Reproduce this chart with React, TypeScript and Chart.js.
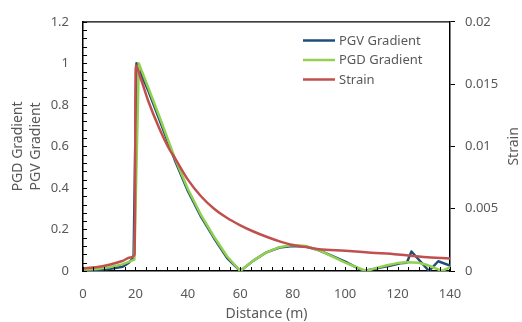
import React, { useEffect, useRef } from "react";
import { Chart, registerables } from "chart.js";

Chart.register(...registerables);

// ---- data ----
const pgvDistance = [0, 5, 10, 15, 17.5, 19.3, 20.4, 25, 30, 35, 40, 45, 50, 55, 60, 65, 70, 75, 80, 85, 90, 95, 100, 107, 113, 117, 121, 123.5, 125.3, 132, 135.5, 140];
const pgvGradient = [0.003, 0.005, 0.01, 0.02, 0.04, 0.065, 1.0, 0.865, 0.7, 0.535, 0.385, 0.262, 0.158, 0.062, 0, 0.05, 0.09, 0.113, 0.12, 0.118, 0.1, 0.073, 0.045, 0, 0.015, 0.025, 0.037, 0.04, 0.094, 0, 0.047, 0.026];

const pgdDistance = [0, 5, 10, 15, 19.6, 21.3, 25, 30, 35, 40, 45, 50, 55, 60, 62, 65, 70, 75, 80, 85, 90, 95, 100, 108, 112, 116, 120, 124, 128, 131, 137, 140];
const pgdGradient = [0.006, 0.01, 0.018, 0.032, 0.055, 1.0, 0.88, 0.715, 0.545, 0.395, 0.27, 0.165, 0.07, 0, 0.02, 0.05, 0.09, 0.115, 0.125, 0.12, 0.1, 0.07, 0.04, 0, 0.015, 0.028, 0.038, 0.042, 0.04, 0.03, 0, 0.018];

const strainDistance = [0, 5, 10, 15, 18, 19.7, 20.1, 22, 25, 29, 33, 35, 40, 45, 50, 55, 60, 65, 70, 75, 80, 85, 90, 100, 110, 120, 126, 130, 140];
const strainValue = [0.00022, 0.0003, 0.0005, 0.0008, 0.00108, 0.00133, 0.0165, 0.01547, 0.01358, 0.0115, 0.00975, 0.00908, 0.00733, 0.006, 0.005, 0.00425, 0.00367, 0.00317, 0.00275, 0.00238, 0.00208, 0.00192, 0.00175, 0.00162, 0.00147, 0.00133, 0.0012, 0.00113, 0.001];

const xTicks = [0, 20, 40, 60, 80, 100, 120, 140];
const leftTicks = [0, 0.2, 0.4, 0.6, 0.8, 1, 1.2];
const rightTicks = [0, 0.005, 0.01, 0.015, 0.02];
const xMinorStep = 4;
const leftMinorStep = 0.04;

const FONT = "'Noto Sans', sans-serif";
const TEXT = "#595959";
const BLUE = "#1F4E79";
const GREEN = "#92D050";
const RED = "#C0504D";

const fmt = (v: number) => String(parseFloat(Number(v).toFixed(6)));
const pairs = (xs: number[], ys: number[]) => xs.map((x, i) => ({ x, y: ys[i] }));

export default function App() {
  const ref = useRef<HTMLCanvasElement>(null);

  useEffect(() => {
    document.body.style.margin = "0";
    const canvas = ref.current;
    if (!canvas) return;

    const decor = {
      id: "decor",
      afterDraw(chart: any) {
        const ctx = chart.ctx;
        const { left, right, top, bottom } = chart.chartArea;
        const xs = chart.scales.x;
        const ys = chart.scales.y;
        ctx.save();
        // top border
        ctx.strokeStyle = "#000";
        ctx.lineWidth = 1.25;
        ctx.beginPath();
        ctx.moveTo(left, top);
        ctx.lineTo(right, top);
        ctx.stroke();
        // inner ticks
        ctx.lineWidth = 1;
        ctx.beginPath();
        for (let v = 0; v <= 140 + 1e-9; v += xMinorStep) {
          const px = Math.round(xs.getPixelForValue(v)) + 0.5;
          ctx.moveTo(px, bottom);
          ctx.lineTo(px, bottom - 4);
        }
        for (let k = 0; k <= 30; k++) {
          const py = Math.round(ys.getPixelForValue(k * leftMinorStep)) + 0.5;
          ctx.moveTo(left, py);
          ctx.lineTo(left + 4, py);
        }
        ctx.stroke();
        // right title
        ctx.fillStyle = TEXT;
        ctx.font = `14px ${FONT}`;
        ctx.textAlign = "center";
        ctx.textBaseline = "middle";
        ctx.translate(514, (top + bottom) / 2);
        ctx.rotate(-Math.PI / 2);
        ctx.fillText("Strain", 0, 0);
        ctx.restore();
        // legend
        ctx.save();
        const rows = [40.5, 60, 79.5];
        ctx.font = `13px ${FONT}`;
        ctx.textAlign = "left";
        ctx.textBaseline = "middle";
        chart.data.datasets.forEach((ds: any, i: number) => {
          const y = rows[i];
          ctx.strokeStyle = ds.borderColor;
          ctx.lineWidth = 2.5;
          ctx.beginPath();
          ctx.moveTo(303, y);
          ctx.lineTo(335, y);
          ctx.stroke();
          ctx.fillStyle = TEXT;
          ctx.fillText(ds.label, 339, y + 0.5);
        });
        ctx.restore();
      },
    };

    const tickFont = { family: FONT, size: 13 };

    const chart = new Chart(canvas, {
      type: "line",
      data: {
        datasets: [
          { label: "PGV Gradient", data: pairs(pgvDistance, pgvGradient), borderColor: BLUE, borderWidth: 2.5, yAxisID: "y", order: 3, tension: 0 },
          { label: "PGD Gradient", data: pairs(pgdDistance, pgdGradient), borderColor: GREEN, borderWidth: 2.5, yAxisID: "y", order: 2, tension: 0 },
          { label: "Strain", data: pairs(strainDistance, strainValue), borderColor: RED, borderWidth: 2.5, yAxisID: "y2", order: 1, cubicInterpolationMode: "monotone" },
        ],
      } as any,
      options: {
        responsive: false,
        animation: false,
        layout: { padding: { top: 20, left: 0, right: 0, bottom: 0 } },
        plugins: { legend: { display: false }, tooltip: { enabled: false } },
        elements: { point: { radius: 0 }, line: { borderJoinStyle: "round", borderCapStyle: "round" } },
        scales: {
          x: {
            type: "linear",
            min: 0,
            max: 140,
            afterBuildTicks: (s: any) => { s.ticks = xTicks.map((v) => ({ value: v })); },
            afterFit: (s: any) => { s.height = 51; },
            grid: { display: false, drawTicks: false },
            border: { display: true, color: "#000", width: 1.5 },
            ticks: { padding: 15, color: TEXT, font: tickFont, autoSkip: false, maxRotation: 0, callback: (v: any) => fmt(v) },
            title: { display: true, text: "Distance (m)", color: TEXT, font: { family: FONT, size: 14 }, padding: { top: 0, bottom: 0 } },
          },
          y: {
            type: "linear",
            position: "left",
            min: 0,
            max: 1.2,
            afterBuildTicks: (s: any) => { s.ticks = leftTicks.map((v) => ({ value: v })); },
            afterFit: (s: any) => { s.width = 83; },
            grid: { display: false, drawTicks: false },
            border: { display: true, color: "#000", width: 1.5 },
            ticks: { padding: 14, color: TEXT, font: tickFont, callback: (v: any) => fmt(v) },
            title: { display: true, text: ["PGD Gradient", "PGV Gradient"], color: TEXT, font: { family: FONT, size: 14, lineHeight: 1.31 }, padding: { top: 9, bottom: 0 } },
          },
          y2: {
            type: "linear",
            position: "right",
            min: 0,
            max: 0.02,
            afterBuildTicks: (s: any) => { s.ticks = rightTicks.map((v) => ({ value: v })); },
            afterFit: (s: any) => { s.width = 72; },
            grid: { display: true, drawOnChartArea: false, drawTicks: true, tickLength: 5, color: "#000", lineWidth: 1 },
            border: { display: true, color: "#000", width: 1.5 },
            ticks: { padding: 10, color: TEXT, font: tickFont, callback: (v: any) => fmt(v) },
          },
        },
      } as any,
      plugins: [decor],
    });

    return () => chart.destroy();
  }, []);

  return (
    <div style={{ width: 522, height: 322 }}>
      <canvas ref={ref} width={522} height={322} />
    </div>
  );
}
